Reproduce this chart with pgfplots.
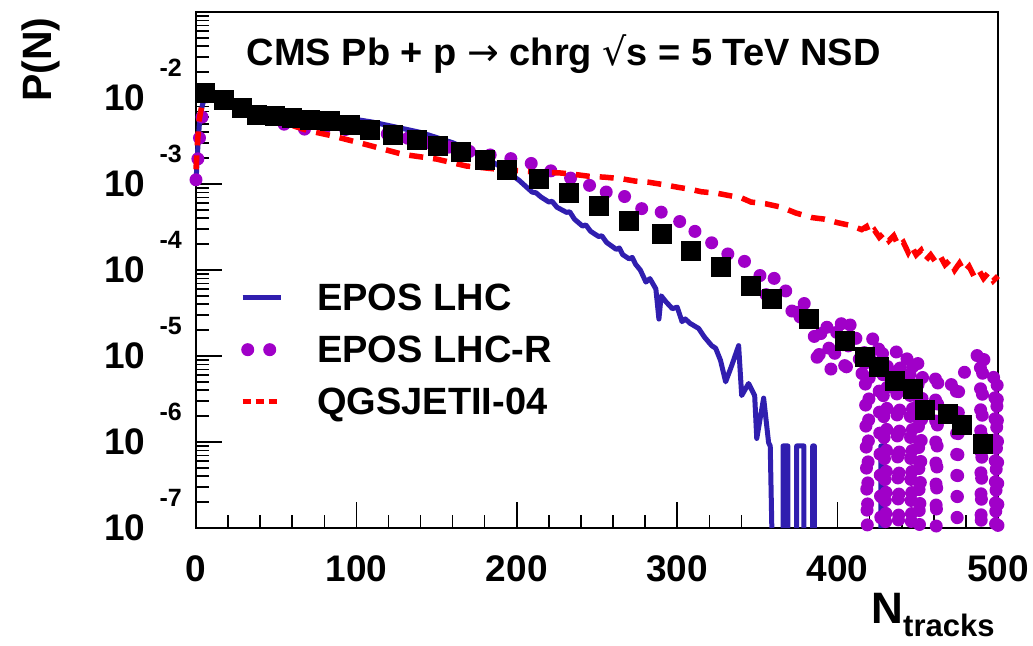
\documentclass[border=0pt]{standalone}
\usepackage{fontspec}
\setmainfont{Liberation Sans}
\newfontfamily\dejavu{DejaVu Sans}
\usepackage{pgfplots}
\pgfplotsset{compat=1.18}
\definecolor{eposblue}{RGB}{48,30,175}
\definecolor{epospurple}{RGB}{160,0,200}
\definecolor{qgsred}{RGB}{255,0,0}
\newcommand{\tl}[1]{10\hspace{14pt}\smash{\raisebox{34pt}{\fontsize{25}{25}\selectfont #1}}}
\begin{document}
\begin{tikzpicture}
\useasboundingbox (-196pt,-117pt) rectangle (837pt,528pt);
\begin{axis}[
  at={(0pt,0pt)}, anchor=south west,
  scale only axis, width=802pt, height=516pt,
  xmin=0, xmax=500, ymin=1e-7, ymax=1e-1, ymode=log,
  clip=false,
  unbounded coords=jump,
  axis line style={line width=2.5pt},
  every tick/.style={black, line width=1.5pt},
  major tick length=26pt, minor tick length=13pt,
  tick align=inside, xtick pos=left, ytick pos=left,
  xtick={0,100,200,300,400,500},
  xticklabels={0,100,200,300,400,500},
  minor xtick={20,40,60,80,120,140,160,180,220,240,260,280,320,340,360,380,420,440,460,480},
  ytick={1e-7,1e-6,1e-5,1e-4,1e-3,1e-2},
  yticklabels={\tl{-7},\tl{-6},\tl{-5},\tl{-4},\tl{-3},\tl{-2}},
  minor ytick={2e-7,3e-7,4e-7,5e-7,6e-7,7e-7,8e-7,9e-7,
    2e-6,3e-6,4e-6,5e-6,6e-6,7e-6,8e-6,9e-6,
    2e-5,3e-5,4e-5,5e-5,6e-5,7e-5,8e-5,9e-5,
    2e-4,3e-4,4e-4,5e-4,6e-4,7e-4,8e-4,9e-4,
    2e-3,3e-3,4e-3,5e-3,6e-3,7e-3,8e-3,9e-3,
    2e-2,3e-2,4e-2,5e-2,6e-2,7e-2,8e-2,9e-2},
  xticklabel style={font=\fontsize{37}{37}\selectfont\bfseries, inner sep=0pt, yshift=-27pt},
  yticklabel style={font=\fontsize{37}{37}\selectfont\bfseries, inner sep=0pt, xshift=-14pt},
  xlabel={N\raisebox{-13pt}{\fontsize{31}{31}\selectfont tracks}},
  xlabel style={at={(axis description cs:0.996,-0.126)}, anchor=north east, inner sep=0pt, font=\fontsize{44}{44}\selectfont\bfseries},
  ylabel={P(N)},
  ylabel style={at={(axis description cs:-0.193,0.99)}, anchor=east, inner sep=0pt, font=\fontsize{41}{41}\selectfont\bfseries},
  legend style={at={(rel axis cs:0.0549,0.474)}, anchor=north west, draw=none, fill=none, inner sep=0pt,
    font=\fontsize{38}{38}\selectfont\bfseries, row sep=24pt, nodes={inner sep=0pt},
    /tikz/every odd column/.append style={column sep=34pt}},
  legend cell align=left,
]
% EPOS LHC
\addplot[eposblue, line width=5pt, line join=round,
  legend image code/.code={\draw[eposblue, line width=5pt] (0pt,0pt) -- (38pt,0pt);}]
coordinates {
(0,1.05e-3) (1,2.40e-3) (2,4.68e-3) (3,6.61e-3) (4,8.32e-3) (6,1.07e-2) (8,1.12e-2)
(12,1.02e-2) (17,9.55e-3) (25,8.32e-3) (30,7.76e-3) (40,6.76e-3) (50,6.46e-3)
(60,6.31e-3) (70,6.17e-3) (80,6.03e-3) (90,5.89e-3) (100,5.62e-3) (110,5.25e-3)
(120,4.79e-3) (130,4.37e-3) (140,3.98e-3) (150,3.47e-3) (160,3.02e-3) (170,2.51e-3)
(180,2.04e-3) (190,1.58e-3) (195,1.35e-3) (201.5,1.10e-3) (205,9.6e-4) (209.6,8.04e-4) (212,7.9e-4) (215,7.08e-4)
(220,6.17e-4) (222,6.3e-4) (225,5.37e-4) (231,4.68e-4) (233,4.75e-4) (236,3.89e-4) (241,3.24e-4) (243,3.35e-4) (246,2.82e-4)
(251,2.45e-4) (253,2.5e-4) (256,2.09e-4) (262,1.74e-4) (264,1.8e-4) (266,1.51e-4) (270,1.35e-4) (272,1.4e-4) (274,1.17e-4)
(277,1.00e-4) (280.5,7.24e-5) (283,7.94e-5) (286.7,6.03e-5) (288.6,2.69e-5) (290,5.01e-5)
(293,4.27e-5) (297,3.55e-5) (300,3.7e-5) (303,2.51e-5) (305,2.7e-5) (308,2.40e-5) (313.4,2.09e-5) (317,1.66e-5)
(321.5,1.32e-5) (324,1.23e-5) (327,8.91e-6) (330.2,5.01e-6) (334,7.76e-6) (338.3,1.32e-5)
(340.2,3.47e-6) (344.5,4.79e-6) (348.3,3.47e-6) (349.6,1.10e-6) (353.9,3.24e-6)
(357,9.77e-7) (358,9.0e-7) (359,1e-7) (362,nan)
(366,1e-7) (366,9e-7) (369,9e-7) (369,1e-7) (372,nan)
(374.5,1e-7) (374.5,9e-7) (379,9e-7) (379,1e-7) (382,nan)
(384.5,1e-7) (384.5,9e-7) (385.5,9e-7) (385.5,1e-7) (400,nan)
(427,1e-7) (427,9e-7) (428.5,9e-7) (428.5,1e-7)
};
\addlegendentry{EPOS LHC}
% EPOS LHC-R
\addplot[epospurple, line width=13pt, line cap=round, line join=round, dash pattern=on 0pt off 21pt,
  legend image code/.code={\draw[epospurple, line width=13pt, line cap=round, dash pattern=on 0pt off 22pt] (5pt,0pt) -- (30pt,0pt);}]
coordinates {
(0,1.12e-3) (1,1.78e-3) (2,3.16e-3) (3,5.01e-3) (5,7.94e-3) (7,1.05e-2) (10,1.10e-2)
(15,1.00e-2) (20,8.71e-3) (30,7.08e-3) (40,6.03e-3) (50,5.25e-3) (56,4.90e-3) (62,4.68e-3)
(69,4.27e-3) (75,4.68e-3) (80,4.47e-3) (90,4.37e-3) (100,4.17e-3) (108,4.07e-3)
(114,3.98e-3) (120,3.80e-3) (130,3.47e-3) (140,3.16e-3) (150,2.88e-3) (160,2.63e-3)
(170,2.40e-3) (180,2.24e-3) (191,2.04e-3) (201.5,1.91e-3) (208.8,1.74e-3) (217,1.51e-3)
(225,1.35e-3) (233.6,1.17e-3) (243,1.07e-3) (249.2,8.13e-4) (254,8.71e-4) (259.3,6.92e-4)
(266.8,7.24e-4) (272,6.17e-4) (277.2,5.25e-4) (282.3,4.68e-4) (288.6,4.90e-4) (293.5,4.27e-4)
(299,3.72e-4) (303,3.63e-4) (307.2,2.75e-4) (311,2.82e-4) (315.3,2.40e-4) (319.7,2.29e-4)
(324.6,1.74e-4) (330,1.51e-4) (334,1.58e-4) (337,1.29e-4) (342,1.26e-4) (347.6,1.02e-4)
(351,8.91e-5) (354.9,7.24e-5) (356,3.72e-5) (358,6.31e-5) (361.1,8.51e-5) (364,7.08e-5)
(367.3,6.03e-5) (370,3.98e-5) (372,3.16e-5) (374,4.07e-5) (376,2.29e-5) (378,4.47e-5)
(381,3.55e-5) (383,3.89e-5) (386,1.41e-5) (388,7.59e-6) (390,2.40e-5) (393,2.51e-5)
(396,6.61e-6) (398,9.55e-6) (400,2.51e-5) (402,2.75e-5) (405,5.75e-6) (408,2.51e-5)
(411,1.78e-5) (413,1.10e-5) (415,5.75e-6) (417,1.26e-5) (418.5,1e-7) (420,1.58e-5)
(423,1.58e-5) (425.5,1.74e-5) (427,1e-7) (428,1.12e-5) (430,1e-7) (431,7.94e-6)
(433,1.12e-5) (436.6,1.12e-5) (438,1e-7) (439,1.00e-5) (442,8.91e-6) (445,9.77e-6)
(446,1e-7) (447,8.32e-6) (450,1.02e-5) (451,1e-7) (453,6.31e-6) (458,6.31e-6)
(461,5.89e-6) (461.5,1e-7) (462.5,5.01e-6) (468,3.98e-6) (474,5.50e-6) (474.5,1e-7)
(475.5,5.01e-6) (482,7.94e-6) (489,1.12e-5) (489.5,1e-7) (490.5,1.00e-5) (494,6.31e-6)
(498,5.50e-6) (498.5,1e-7) (499.5,5.01e-6) (500,1e-7)
};
\addlegendentry{EPOS LHC-R}
% QGSJETII-04
\addplot[qgsred, line width=5.5pt, dash pattern=on 14pt off 10pt,
  legend image code/.code={\draw[qgsred, line width=5pt, dash pattern=on 8pt off 5pt] (0pt,0pt) -- (38pt,0pt);}]
coordinates {
(0,1.48e-3) (1,3.16e-3) (2,5.62e-3) (4,8.91e-3) (6,1.07e-2) (10,1.05e-2) (20,8.71e-3)
(30,7.08e-3) (40,6.03e-3) (50,5.25e-3) (60,4.79e-3) (70,4.17e-3) (85,3.63e-3)
(106,2.88e-3) (129,2.21e-3) (150,1.95e-3) (168.5,1.62e-3) (189,1.48e-3) (205,1.41e-3)
(215,1.36e-3) (226,1.35e-3) (235,1.30e-3) (245,1.23e-3) (255,1.20e-3) (265.5,1.15e-3)
(274,1.08e-3) (282,1.05e-3) (292,9.8e-4) (301,9.12e-4) (308,8.7e-4) (315,8.13e-4)
(325,7.8e-4) (334,7.24e-4) (340,6.9e-4) (346,6.17e-4) (355,5.9e-4) (365,5.37e-4)
(374,4.6e-4) (384,4.07e-4) (392,3.9e-4) (400,3.55e-4) (408,3.3e-4) (415,2.95e-4)
(418,3.2e-4) (420,2.6e-4) (423,2.9e-4) (426,2.4e-4) (429,2.7e-4) (432,2.19e-4)
(435,2.5e-4) (438,1.9e-4) (441,2.1e-4) (444,1.6e-4) (446,1.9e-4) (449,1.5e-4)
(452,1.7e-4) (455,1.3e-4) (458,1.5e-4) (461,1.25e-4) (464,1.45e-4) (467,1.15e-4)
(470,1.3e-4) (473,1.0e-4) (476,1.2e-4) (479,9.5e-5) (482,1.1e-4) (485,8.5e-5)
(488,1.0e-4) (491,8.0e-5) (494,9.3e-5) (497,7.5e-5) (500,8.5e-5)
};
\addlegendentry{QGSJETII-04}
% CMS data
\addplot[only marks, mark=square*, mark size=9.5pt, black, forget plot]
coordinates {
(5.6,1.15e-2) (17.0,9.62e-3) (28.4,7.69e-3) (37.7,6.44e-3) (49.1,6.30e-3) (59.5,5.90e-3)
(70.9,5.64e-3) (83.3,5.38e-3) (95.8,4.93e-3) (108.2,4.32e-3) (122.7,3.78e-3) (137.3,3.30e-3)
(150.7,2.82e-3) (165.2,2.36e-3) (179.7,1.94e-3) (194.0,1.48e-3) (213.9,1.14e-3) (232.6,7.96e-4)
(251.2,5.57e-4) (269.9,3.73e-4) (290.6,2.62e-4) (308.3,1.68e-4) (326.9,1.08e-4) (345.6,6.59e-5)
(359.0,4.62e-5) (382.0,2.71e-5) (404.7,1.52e-5) (417.1,9.75e-6) (425.4,7.48e-6) (435.8,5.22e-6)
(447.1,4.19e-6) (454.4,2.35e-6) (468.9,2.15e-6) (477.2,1.57e-6) (490.7,9.66e-7)
};
\node[anchor=base west, inner sep=0pt, font=\fontsize{38}{38}\selectfont\bfseries]
  at (rel axis cs:0.063,0.897) {CMS Pb + p {\dejavu\fontseries{m}\selectfont →} chrg {\dejavu\fontseries{m}\selectfont √}s = 5 TeV NSD};
\end{axis}
\end{tikzpicture}
\end{document}
